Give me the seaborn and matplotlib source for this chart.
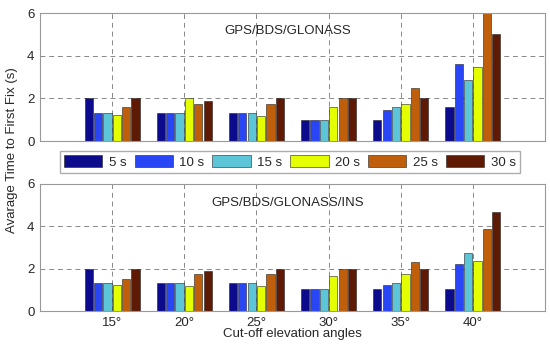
import pandas as pd
import numpy as np
import matplotlib.pyplot as plt
import seaborn as sns

# ---------------------------
# Datos
# ---------------------------
angles = ['15°', '20°', '25°', '30°', '35°', '40°']
intervals = ['5 s', '10 s', '15 s', '20 s', '25 s', '30 s']

# GPS/BDS/GLONASS (una lista por intervalo)
gnss_5 = [2.0, 1.3, 1.3, 1.0, 1.0, 1.58]
gnss_10 = [1.3, 1.3, 1.3, 1.0, 1.45, 3.6]
gnss_15 = [1.3, 1.3, 1.3, 1.0, 1.6, 2.85]
gnss_20 = [1.22, 2.0, 1.17, 1.6, 1.73, 3.45]
gnss_25 = [1.58, 1.73, 1.73, 2.0, 2.47, 6.0]
gnss_30 = [2.0, 1.87, 2.0, 2.0, 2.0, 5.02]

# GPS/BDS/GLONASS/INS
ins_5 = [2.0, 1.33, 1.33, 1.05, 1.05, 1.05]
ins_10 = [1.33, 1.33, 1.33, 1.05, 1.22, 2.2]
ins_15 = [1.33, 1.33, 1.33, 1.05, 1.33, 2.75]
ins_20 = [1.25, 1.2, 1.2, 1.65, 1.77, 2.35]
ins_25 = [1.5, 1.77, 1.77, 2.0, 2.33, 3.87]
ins_30 = [2.0, 1.9, 2.0, 2.0, 2.0, 4.69]

colors = ['#0b0b8c', '#2846f5', '#5cc6d8', '#e4ff00', '#bf5f0c', '#5e1a04']


def to_long(series):
    rows = []
    for name, vals in zip(intervals, series):
        for a, v in zip(angles, vals):
            rows.append({'angle': a, 'interval': name, 'ttff': v})
    return pd.DataFrame(rows)


df_gnss = to_long([gnss_5, gnss_10, gnss_15, gnss_20, gnss_25, gnss_30])
df_ins = to_long([ins_5, ins_10, ins_15, ins_20, ins_25, ins_30])

# ---------------------------
# Figura
# ---------------------------
sns.set_style('white')
plt.rcParams['font.family'] = ['Liberation Sans', 'DejaVu Sans']
plt.rcParams['font.size'] = 9.5

fig = plt.figure(figsize=(5.5, 3.47), dpi=100)
ax1 = fig.add_axes([40 / 550, 1 - 141 / 347, 505 / 550, 128 / 347])
ax2 = fig.add_axes([40 / 550, 1 - 311 / 347, 505 / 550, 127 / 347])

for ax, df, title, ty in [(ax1, df_gnss, 'GPS/BDS/GLONASS', 0.86),
                          (ax2, df_ins, 'GPS/BDS/GLONASS/INS', 0.85)]:
    sns.barplot(data=df, x='angle', y='ttff', hue='interval', palette=colors,
                width=0.78, gap=0.12, edgecolor='#222222', linewidth=0.4,
                saturation=1, ax=ax, legend=(ax is ax1))
    ax.set_xlim(-1, 6)
    ax.set_ylim(0, 6)
    ax.set_yticks([0, 2, 4, 6])
    ax.grid(True, linestyle=(0, (5, 4)), color='#888888', linewidth=0.7)
    ax.set_axisbelow(True)
    ax.tick_params(length=0, pad=4, labelsize=9.5)
    for s in ax.spines.values():
        s.set_color('#999999')
        s.set_linewidth(0.8)
    ax.set_xlabel('')
    ax.set_ylabel('')
    ax.text(0.49, ty, title, transform=ax.transAxes, ha='center', va='center',
            fontsize=9.5)

ax1.set_xticklabels([])

handles, labels = ax1.get_legend_handles_labels()
ax1.get_legend().remove()
fig.legend(handles, labels, ncol=6, loc='center', bbox_to_anchor=(290 / 550, 1 - 162 / 347),
           frameon=True, fancybox=False, edgecolor='#999999', handlelength=2.9,
           handleheight=1.0, columnspacing=0.6, handletextpad=0.5, fontsize=9.5,
           borderpad=0.35)

fig.text(12 / 550, 1 - 150 / 347, 'Avarage Time to First Fix (s)', rotation=90,
         ha='center', va='center', fontsize=9.5)
fig.text(292 / 550, 1 - 334 / 347, 'Cut-off elevation angles', ha='center',
         va='center', fontsize=9.5)

fig.savefig('out.png', dpi=100)
